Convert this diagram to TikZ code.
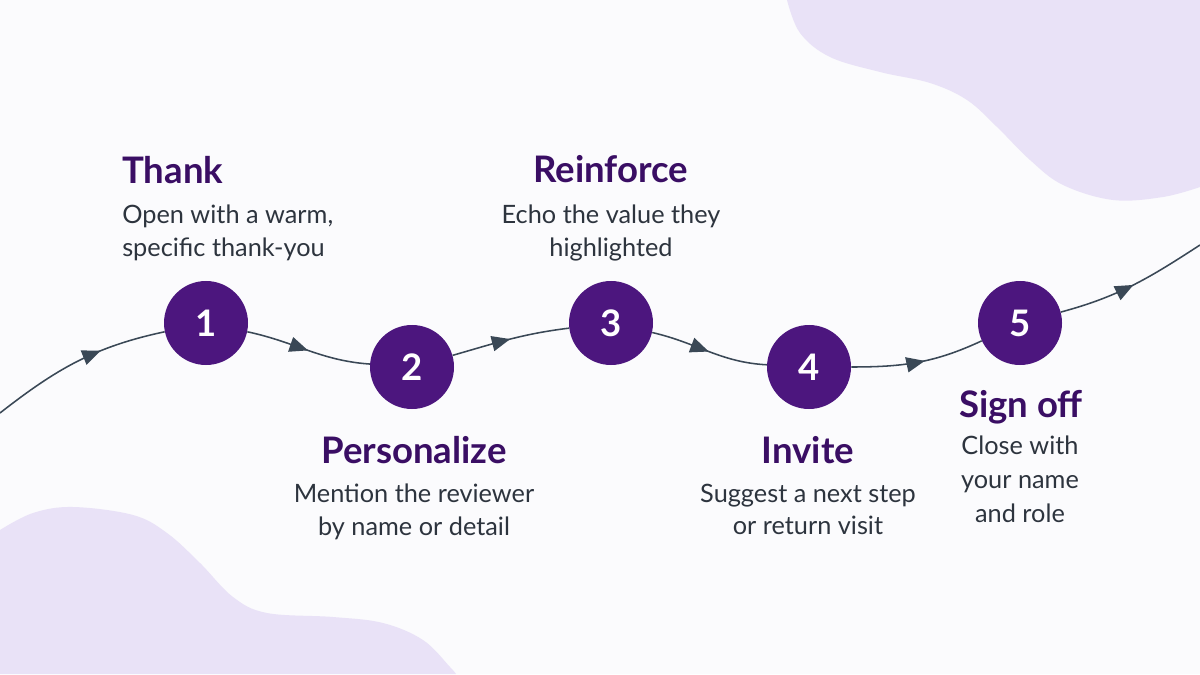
\documentclass[tikz,border=0pt]{standalone}
\usepackage{fontspec}
\setmainfont{Lato}
\usetikzlibrary{arrows.meta, positioning, decorations.markings}
\definecolor{stepviolet}{RGB}{76, 22, 126}
\definecolor{titleviolet}{RGB}{58, 14, 100}
\definecolor{bodyslate}{RGB}{45, 52, 62}
\definecolor{pathslate}{RGB}{58, 72, 86}
\definecolor{blobviolet}{RGB}{233, 226, 247}
\definecolor{paper}{RGB}{251, 251, 253}

\begin{document}
\begin{tikzpicture}[
  numdot/.style={circle, fill=stepviolet, minimum size=2.1cm, inner sep=0pt, text=white, font=\fontsize{26}{30}\selectfont\bfseries},
  headline/.style={text=titleviolet, font=\fontsize{26}{31}\selectfont\bfseries, inner sep=0pt},
  blurb/.style={text=bodyslate, font=\fontsize{18}{23}\selectfont, align=center, inner sep=0pt, anchor=north},
  flow/.style={draw=pathslate, line width=1.1pt, postaction={decorate},
    decoration={markings, mark=at position #1 with {\arrow{Triangle[length=0.46cm, width=0.38cm]}}}},
  flow/.default=0.5
]
  \useasboundingbox (0,0) rectangle (30,16.85);
  \fill[paper] (0,0) rectangle (30,16.85);
  \fill[blobviolet] plot[smooth, tension=0.6] coordinates {(19.675,16.85) (20,16.025) (20.75,15.425) (22,15.05) (23.25,14.775) (24.175,14.35) (24.925,13.675) (25.75,12.85) (26.575,12.225) (27.825,11.85) (29.075,11.925) (30,12.175)} -- (30,16.85) -- cycle;
  \fill[blobviolet] plot[smooth, tension=0.6] coordinates {(0,3.6) (0.825,4.025) (1.825,4.175) (3.325,3.975) (4.175,3.525) (5,2.775) (5.825,1.925) (6.675,1.525) (8.325,1.425) (9.575,1.275) (10.575,0.85) (11.25,0.175) (11.4,0)} -- (0,0) -- cycle;

  \node[numdot] (n1) at (5.15, 8.775) {1};
  \node[numdot] (n2) at (10.3, 7.675) {2};
  \node[numdot] (n3) at (15.275, 8.775) {3};
  \node[numdot] (n4) at (20.225, 7.675) {4};
  \node[numdot] (n5) at (25.5, 8.775) {5};

  \coordinate (start) at (0, 6.525);
  \coordinate (finish) at (30, 10.725);
  \draw[flow=0.64] (start) to[out=38, in=192] (n1);
  \draw[flow] (n1) to[out=-12, in=176] (n2);
  \draw[flow] (n2) to[out=16, in=187] (n3);
  \draw[flow] (n3) to[out=-13, in=177] (n4);
  \draw[flow=0.55] (n4) to[out=0, in=205] (n5);
  \draw[flow] (n5) to[out=15, in=213] (finish);

  \node[headline, anchor=base west] (t1) at (3.05, 12.25) {Thank};
  \node[blurb, anchor=north west, align=left] (d1) at (3.05, 11.725) {Open with a warm,\\specific thank-you};
  \node[headline, anchor=base] (t2) at (10.35, 5.275) {Personalize};
  \node[blurb] (d2) at (10.35, 4.75) {Mention the reviewer\\by name or detail};
  \node[headline, anchor=base] (t3) at (15.275, 12.275) {Reinforce};
  \node[blurb] (d3) at (15.275, 11.725) {Echo the value they\\highlighted};
  \node[headline, anchor=base] (t4) at (20.2, 5.275) {Invite};
  \node[blurb] (d4) at (20.2, 4.75) {Suggest a next step\\or return visit};
  \node[headline, anchor=base] (t5) at (25.525, 6.425) {Sign off};
  \node[blurb, font=\fontsize{18}{24}\selectfont] (d5) at (25.5, 5.95) {Close with\\your name\\and role};
\end{tikzpicture}
\end{document}
